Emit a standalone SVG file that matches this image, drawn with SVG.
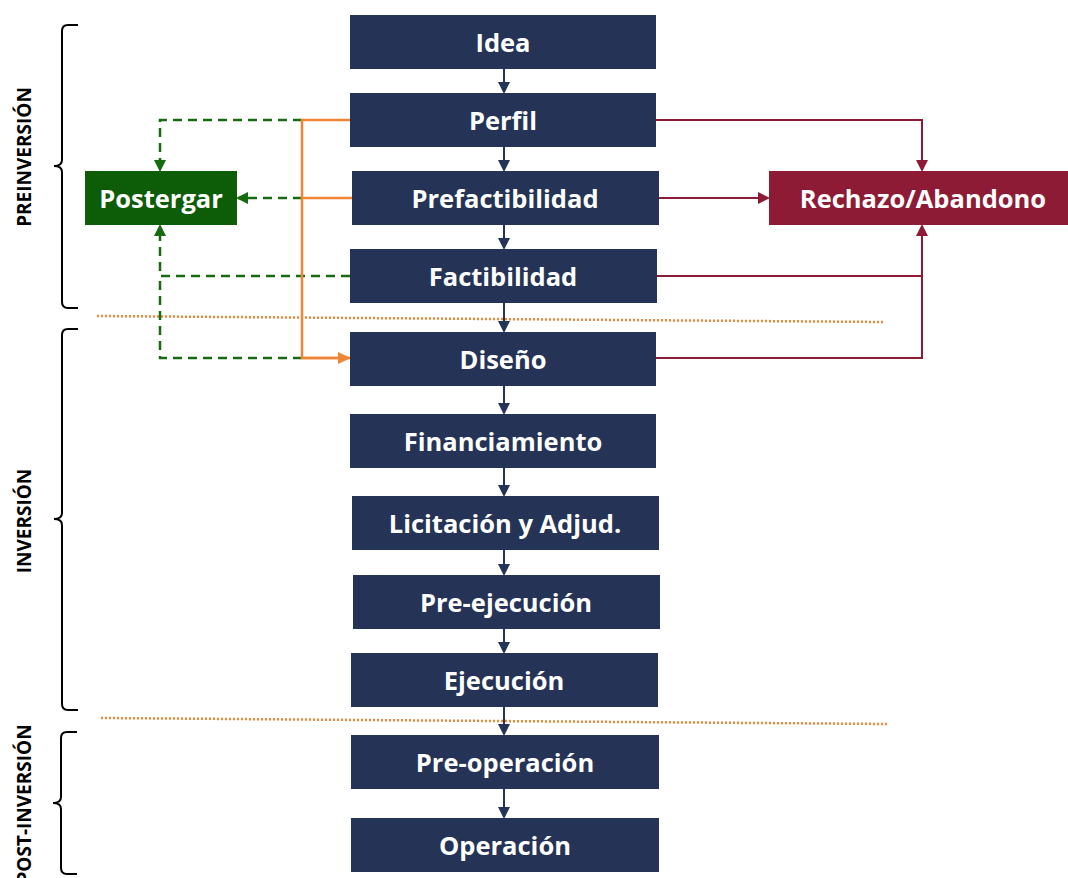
<svg xmlns="http://www.w3.org/2000/svg" width="1068" height="878" viewBox="0 0 1068 878">
<style>
.box{fill:#253456}
.lbl{font-family:"Open Sans","Liberation Sans",sans-serif;font-weight:bold;font-size:25.5px;fill:#fff;text-anchor:middle;dominant-baseline:central}
.side{font-family:"Open Sans","Liberation Sans",sans-serif;font-weight:bold;font-size:19px;fill:#000;text-anchor:middle;dominant-baseline:central}
.nav{stroke:#253456;stroke-width:2;fill:none}
.org{stroke:#f08536;stroke-width:2.5;fill:none}
.grn{stroke:#166b10;stroke-width:2.5;fill:none;stroke-dasharray:9 6}
.red{stroke:#8e1b35;stroke-width:2;fill:none}
.dot{stroke:#f08536;stroke-width:2.5;fill:none;stroke-dasharray:2 2}
.brace{stroke:#000;stroke-width:2;fill:none}
</style>
<defs>
<marker id="an" markerWidth="12" markerHeight="12" refX="10" refY="6" orient="auto" markerUnits="userSpaceOnUse"><path d="M0,0 L12,6 L0,12 z" fill="#253456"/></marker>
<marker id="ao" markerWidth="14" markerHeight="14" refX="12" refY="7" orient="auto" markerUnits="userSpaceOnUse"><path d="M0,1 L13,7 L0,13 z" fill="#f08536"/></marker>
<marker id="ag" markerWidth="12" markerHeight="12" refX="10" refY="6" orient="auto" markerUnits="userSpaceOnUse"><path d="M0,0 L12,6 L0,12 z" fill="#166b10"/></marker>
<marker id="ar" markerWidth="12" markerHeight="12" refX="10" refY="6" orient="auto" markerUnits="userSpaceOnUse"><path d="M0,0 L12,6 L0,12 z" fill="#8e1b35"/></marker>
</defs>

<g id="phases">
<path class="dot" d="M97,316 L884,322"/>
<path class="dot" d="M101,718 L888,724"/>
<path class="brace" d="M78,25 L68,25 Q62,25 62,31 L62,160 Q62,166 54,166 Q62,166 62,172 L62,302 Q62,308 68,308 L78,308"/>
<path class="brace" d="M78,329 L68,329 Q62,329 62,335 L62,513 Q62,519 54,519 Q62,519 62,525 L62,704 Q62,710 68,710 L78,710"/>
<path class="brace" d="M77,732 L67,732 Q61,732 61,738 L61,797 Q61,803 53,803 Q61,803 61,809 L61,868 Q61,874 67,874 L77,874"/>
<text class="side" transform="translate(24,157) rotate(-90)">PREINVERSIÓN</text>
<text class="side" transform="translate(24,521) rotate(-90)">INVERSIÓN</text>
<text class="side" transform="translate(24,804) rotate(-90)">POST-INVERSIÓN</text>
</g>

<g id="connectors">
<path class="nav" marker-end="url(#an)" d="M504,69 L504,92"/>
<path class="nav" marker-end="url(#an)" d="M504,147 L504,170"/>
<path class="nav" marker-end="url(#an)" d="M504,225 L504,248"/>
<path class="nav" marker-end="url(#an)" d="M504,303 L504,331"/>
<path class="nav" marker-end="url(#an)" d="M504,386 L504,413"/>
<path class="nav" marker-end="url(#an)" d="M504,468 L504,495"/>
<path class="nav" marker-end="url(#an)" d="M504,550 L504,574"/>
<path class="nav" marker-end="url(#an)" d="M504,629 L504,652"/>
<path class="nav" marker-end="url(#an)" d="M504,707 L504,734"/>
<path class="nav" marker-end="url(#an)" d="M504,789 L504,817"/>

<path class="grn" marker-end="url(#ag)" d="M302,120 L160,120 L160,170"/>
<path class="grn" marker-end="url(#ag)" d="M302,198 L238,198"/>
<path class="grn" marker-end="url(#ag)" d="M350,276 L160,276 L160,226"/>
<path class="grn" d="M302,358 L160,358 L160,276"/>

<path class="org" d="M350,120 L302,120 L302,358 L340,358"/>
<path class="org" marker-end="url(#ao)" d="M302,358 L350,358"/>
<path class="org" d="M352,198 L302,198"/>

<path class="red" marker-end="url(#ar)" d="M656,120 L922,120 L922,170"/>
<path class="red" marker-end="url(#ar)" d="M659,198 L768,198"/>
<path class="red" d="M657,276 L922,276"/>
<path class="red" marker-end="url(#ar)" d="M656,358 L922,358 L922,226"/>
</g>

<g id="n-idea"><rect class="box" x="350" y="15" width="306" height="54"/><text class="lbl" x="503" y="42">Idea</text></g>
<g id="n-perfil"><rect class="box" x="350" y="93" width="306" height="54"/><text class="lbl" x="503" y="120">Perfil</text></g>
<g id="n-prefact"><rect class="box" x="352" y="171" width="307" height="54"/><text class="lbl" x="505" y="198">Prefactibilidad</text></g>
<g id="n-fact"><rect class="box" x="350" y="249" width="307" height="54"/><text class="lbl" x="503" y="276">Factibilidad</text></g>
<g id="n-diseno"><rect class="box" x="350" y="332" width="306" height="54"/><text class="lbl" x="503" y="359">Diseño</text></g>
<g id="n-financ"><rect class="box" x="350" y="414" width="306" height="54"/><text class="lbl" x="503" y="441">Financiamiento</text></g>
<g id="n-licit"><rect class="box" x="352" y="496" width="307" height="54"/><text class="lbl" x="505" y="523">Licitación y Adjud.</text></g>
<g id="n-preejec"><rect class="box" x="353" y="575" width="307" height="54"/><text class="lbl" x="506" y="602">Pre-ejecución</text></g>
<g id="n-ejec"><rect class="box" x="351" y="653" width="307" height="54"/><text class="lbl" x="504" y="680">Ejecución</text></g>
<g id="n-preop"><rect class="box" x="351" y="735" width="308" height="54"/><text class="lbl" x="505" y="762">Pre-operación</text></g>
<g id="n-op"><rect class="box" x="351" y="818" width="308" height="54"/><text class="lbl" x="505" y="845">Operación</text></g>
<g id="n-postergar"><rect x="85" y="171" width="152" height="54" fill="#0d5c08"/><text class="lbl" x="161" y="198">Postergar</text></g>
<g id="n-rechazo"><rect x="769" y="171" width="299" height="54" fill="#8e1b35"/><text class="lbl" x="923" y="198">Rechazo/Abandono</text></g>
</svg>
